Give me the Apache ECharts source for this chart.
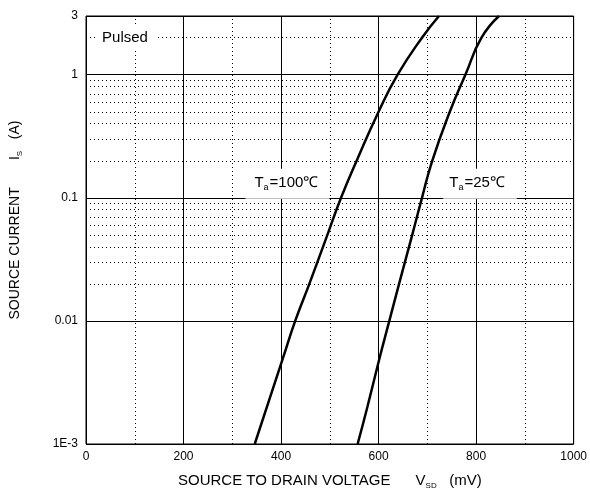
<!DOCTYPE html>
<html>
<head>
<meta charset="utf-8">
<script src="https://cdn.jsdelivr.net/npm/echarts@6/dist/echarts.min.js"></script>
<style>
  html, body { margin: 0; padding: 0; background: #fff; }
  #chart { width: 590px; height: 495px; }
</style>
</head>
<body>
<div id="chart"></div>
<script>
// source current (A) and the read-off voltages (mV) for each curve
var currents = [0.001, 0.002, 0.005, 0.01, 0.02, 0.05, 0.1, 0.2, 0.5, 1, 2, 3]
var v100 = [346, 371, 404, 429, 458, 495, 523, 555, 600, 639, 689, 724]
var v25 = [557, 577, 602, 622, 642, 669, 689, 710, 746, 778, 811, 847]

var yTicks = [0.001, 0.01, 0.1, 1, 3]
var yMinorLines = [0.002, 0.003, 0.004, 0.005, 0.006, 0.007, 0.008, 0.009,
    0.02, 0.03, 0.04, 0.05, 0.06, 0.07, 0.08, 0.09,
    0.2, 0.3, 0.4, 0.5, 0.6, 0.7, 0.8, 0.9, 2]
var xMinorLines = [100, 300, 500, 700, 900]

var font = 'Arial, "Liberation Sans", sans-serif'

var pairs = function(xs, ys) {
    var out = []
    for (var i = 0; i < xs.length; i++) {
        out.push([xs[i], ys[i]])
    }
    return out
}

var dotted = { color: '#000', width: 1, type: [1, 3], opacity: 1 }
var gridLines = []
for (var i = 0; i < yMinorLines.length; i++) {
    gridLines.push({ yAxis: yMinorLines[i], lineStyle: dotted })
}
for (var j = 0; j < xMinorLines.length; j++) {
    gridLines.push({ xAxis: xMinorLines[j], lineStyle: dotted })
}

var labelRich = {
    t: { fontSize: 15, lineHeight: 20, fontFamily: font, color: '#000' },
    s: { fontSize: 9, lineHeight: 20, fontFamily: font, color: '#000', padding: [9, 1, 0, 0] }
}

var tag = function(text, coord, pad) {
    return {
        coord: coord,
        symbol: 'rect',
        symbolSize: 1,
        itemStyle: { color: 'rgba(0,0,0,0)' },
        label: {
            show: true,
            position: 'inside',
            formatter: text,
            backgroundColor: '#fff',
            padding: pad,
            rich: labelRich
        }
    }
}

var nameStyle = function(size) {
    return {
        fontSize: size, fontFamily: font, color: '#000',
        rich: {
            s: { fontSize: 8, fontFamily: font, color: '#000', padding: [10, 0, 0, 0] }
        }
    }
}

var myChart = echarts.init(document.getElementById('chart'))

var option = {
    backgroundColor: '#fff',
    animation: false,
    grid: {
        left: 85, right: 16, top: 16, bottom: 51,
        show: true, borderColor: '#000', borderWidth: 1
    },
    xAxis: {
        type: 'value',
        min: 0, max: 1000, interval: 200,
        name: 'SOURCE TO DRAIN VOLTAGE      V{s|SD}   (mV)',
        nameLocation: 'middle',
        nameGap: 28,
        nameTextStyle: nameStyle(15),
        axisLine: { show: false },
        axisTick: { show: false },
        axisLabel: {
            fontSize: 12, fontFamily: font, color: '#000', margin: 7,
            formatter: function(v) { return String(v) }
        },
        splitLine: { show: true, lineStyle: { color: '#000', width: 1 } }
    },
    yAxis: {
        type: 'log',
        logBase: 10,
        min: 0.001, max: 3,
        name: 'SOURCE CURRENT       I{s|S}   (A)',
        nameLocation: 'middle',
        nameGap: 62,
        nameTextStyle: Object.assign(nameStyle(14), { padding: [0, 0, 0, 20] }),
        axisLine: { show: false },
        axisTick: { show: false },
        axisLabel: {
            fontSize: 12, fontFamily: font, color: '#000', margin: 8,
            customValues: yTicks,
            formatter: function(v) {
                if (Math.abs(v - 0.001) < 1e-9) return '1E-3'
                if (Math.abs(v - 0.01) < 1e-9) return '0.01'
                if (Math.abs(v - 0.1) < 1e-9) return '0.1'
                if (Math.abs(v - 1) < 1e-9) return '1'
                if (Math.abs(v - 3) < 1e-9) return '3'
                return ''
            }
        },
        splitLine: { show: true, lineStyle: { color: '#000', width: 1 } }
    },
    series: [
        {
            name: 'grid',
            type: 'line',
            data: [],
            silent: true,
            z: 1,
            markLine: {
                silent: true,
                symbol: 'none',
                label: { show: false },
                data: gridLines
            }
        },
        {
            name: 'tags',
            type: 'line',
            data: [],
            silent: true,
            z: 2,
            markPoint: {
                silent: true,
                data: [
                    tag('{t|Pulsed}', [84, 2], [1, 8, 1, 4]),
                    tag('{t|T}{s|a}{t|=100℃}', [413, 0.13], [4, 11, 6, 9]),
                    tag('{t|T}{s|a}{t|=25℃}', [808, 0.13], [4, 12, 6, 6])
                ]
            }
        },
        {
            name: 'Ta=100',
            type: 'line',
            data: pairs(v100, currents),
            smooth: 0.5,
            symbol: 'none',
            z: 5,
            lineStyle: { color: '#000', width: 2.5 }
        },
        {
            name: 'Ta=25',
            type: 'line',
            data: pairs(v25, currents),
            smooth: 0.5,
            symbol: 'none',
            z: 5,
            lineStyle: { color: '#000', width: 2.5 }
        }
    ]
}

myChart.setOption(option)
</script>
</body>
</html>
